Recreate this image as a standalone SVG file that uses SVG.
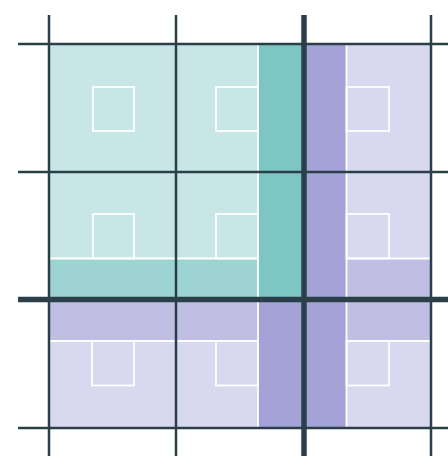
<svg xmlns="http://www.w3.org/2000/svg" width="448" height="456" viewBox="0 0 448 456">
  <style>
    .tl{fill:#c8e6e6}
    .tm{fill:#9dd4d2}
    .td{fill:#7dc6c3}
    .ll{fill:#d8d8ee}
    .lm{fill:#c0bfe3}
    .ld{fill:#a4a2d6}
    .w{fill:none;stroke:#ffffff;stroke-width:1.8}
    .g{fill:none;stroke:#2b3f48;stroke-width:2.5}
    .gt{fill:none;stroke:#2b3f48;stroke-width:5.5}
  </style>
  <rect width="448" height="456" fill="#ffffff"/>
  <g id="fills">
    <rect class="tl" x="49" y="44" width="254" height="255"/>
    <rect class="ll" x="303" y="44" width="128" height="255"/>
    <rect class="ll" x="49" y="299" width="382" height="129"/>
    <rect class="tm" x="49" y="258.5" width="209" height="40.5"/>
    <rect class="td" x="258" y="44" width="45" height="255"/>
    <rect class="lm" x="49" y="299" width="209" height="42"/>
    <rect class="lm" x="346.5" y="258.5" width="84.5" height="82.5"/>
    <rect class="ld" x="258" y="299" width="45" height="129"/>
    <rect class="ld" x="303" y="44" width="43.5" height="384"/>
  </g>
  <g id="white-lines">
    <path class="w" d="M258 44V428M346.5 44V428M49 258.5H258M346.5 258.5H431M49 341H258M346.5 341H431"/>
    <rect class="w" x="93" y="87" width="41" height="44"/>
    <rect class="w" x="216" y="87" width="42" height="44"/>
    <rect class="w" x="346.5" y="87" width="42.5" height="44"/>
    <rect class="w" x="93" y="214" width="41" height="44.5"/>
    <rect class="w" x="216" y="214" width="42" height="44.5"/>
    <rect class="w" x="346.5" y="214" width="42.5" height="44.5"/>
    <rect class="w" x="92" y="341" width="42" height="44.5"/>
    <rect class="w" x="216" y="341" width="42" height="44.5"/>
    <rect class="w" x="346.5" y="341" width="42.5" height="44.5"/>
  </g>
  <g id="grid">
    <path class="g" d="M49 15V456M176 15V456M431 15V456M18 44H448M18 172H448M18 428H448"/>
    <path class="gt" d="M304 15V456M18 299.5H448"/>
  </g>
</svg>
